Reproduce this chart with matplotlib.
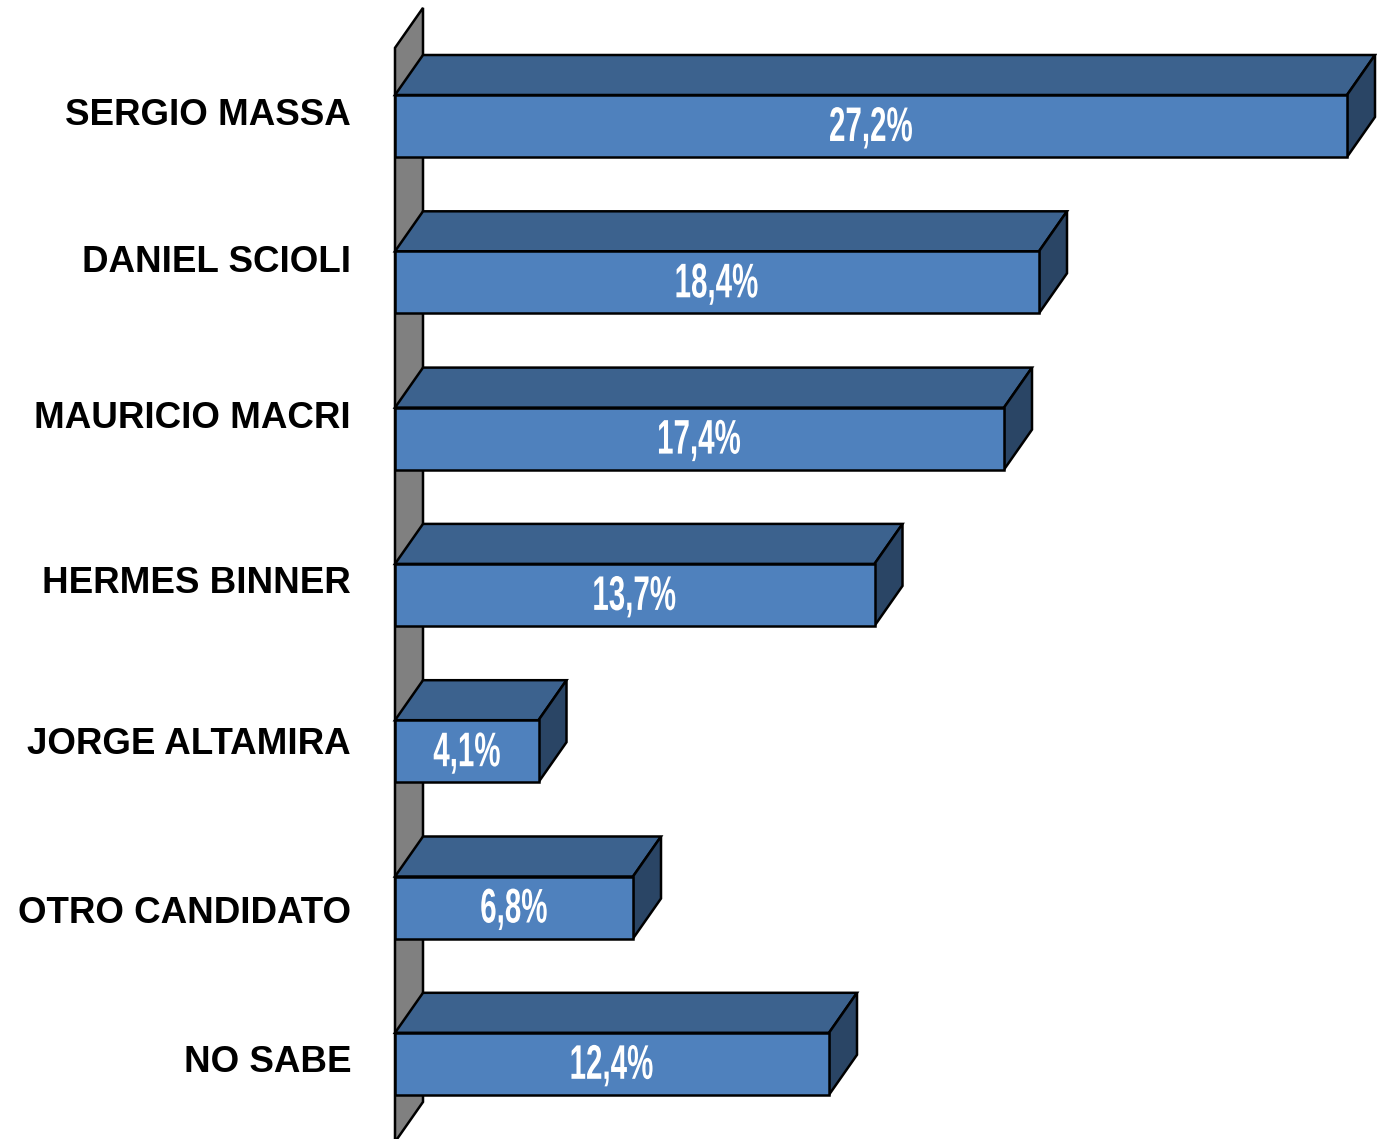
import matplotlib
matplotlib.use("Agg")
from matplotlib import pyplot as plt
from matplotlib import font_manager as fm
from matplotlib.patches import Polygon, PathPatch
from matplotlib.textpath import TextPath
from matplotlib.transforms import Affine2D, IdentityTransform, offset_copy

#Datos
candidatos = ["SERGIO MASSA", "DANIEL SCIOLI", "MAURICIO MACRI", "HERMES BINNER",
              "JORGE ALTAMIRA", "OTRO CANDIDATO", "NO SABE"]
porcentajes = [27.2, 18.4, 17.4, 13.7, 4.1, 6.8, 12.4]
etiquetas = ["27,2%", "18,4%", "17,4%", "13,7%", "4,1%", "6,8%", "12,4%"]

#Layout (pixeles)
W, H = 1377, 1139
PX_X = 35.0    # px por punto porcentual
PX_Y = 156.3   # px por categoria
X0, Y0 = 395, 126
nudge_nombres = [-14, -23.5, -24, -15, -10.5, 2, -4.5]  # centro del texto vs centro de la barra

COL_FRENTE = "#4F81BD"
COL_TECHO = "#3C628E"
COL_LADO = "#2A4565"
COL_PARED = "#808080"

# fuente angosta para las etiquetas de valor
try:
  fm.findfont(fm.FontProperties(family="Liberation Sans Narrow", weight="bold"), fallback_to_default=False)
  fuente_valor, apretar = "Liberation Sans Narrow", 1.0
except ValueError:
  fuente_valor, apretar = "Liberation Sans", 0.82

fig = plt.figure(figsize=(W/100, H/100), dpi=100)
ax = fig.add_axes([0, 0, 1, 1])
ax.set_xlim(-X0/PX_X, (W-X0)/PX_X)
ax.set_ylim((H-Y0)/PX_Y, -Y0/PX_Y)
ax.axis("off")

n = len(candidatos)
dx = 28/PX_X
dy = 40/PX_Y
alto = 62/PX_Y
lw = 1.8

#Pared gris del eje
pared = Polygon([(0, -0.5), (dx, -0.5-dy), (dx, n-0.5-dy), (0, n-0.5)],
                closed=True, facecolor=COL_PARED, edgecolor="k", lw=lw, zorder=1)
ax.add_patch(pared)

for i, v in enumerate(porcentajes):
  arriba, abajo = i-alto/2, i+alto/2
  techo = Polygon([(0, arriba), (dx, arriba-dy), (v+dx, arriba-dy), (v, arriba)],
                  facecolor=COL_TECHO, edgecolor="k", lw=lw, zorder=2, joinstyle="miter")
  lado = Polygon([(v, arriba), (v+dx, arriba-dy), (v+dx, abajo-dy), (v, abajo)],
                 facecolor=COL_LADO, edgecolor="k", lw=lw, zorder=2, joinstyle="miter")
  frente = Polygon([(0, arriba), (v, arriba), (v, abajo), (0, abajo)],
                   facecolor=COL_FRENTE, edgecolor="k", lw=lw, zorder=3, joinstyle="miter")
  for p in (techo, lado, frente):
    ax.add_patch(p)

#Nombres a la izquierda
for i, nombre in enumerate(candidatos):
  tr = offset_copy(ax.transData, fig, x=-44, y=-(nudge_nombres[i]+13), units="dots")
  ax.text(0, i, nombre, transform=tr, ha="right", va="baseline", fontsize=26.5,
          fontweight="bold", family="Liberation Sans", color="k")

#Etiquetas de valor (texto angosto y estirado verticalmente)
fp = fm.FontProperties(family=fuente_valor, weight="bold")
for i, (v, et) in enumerate(zip(porcentajes, etiquetas)):
  cx, cy = ax.transData.transform((v/2, i))
  camino = TextPath((0, 0), et, size=36, prop=fp)
  ext = camino.get_extents()
  tr = Affine2D().translate(-(ext.x0+ext.x1)/2, 0).scale(apretar, 1.35).translate(cx, cy-15)
  ax.add_patch(PathPatch(tr.transform_path(camino), transform=IdentityTransform(),
                         facecolor="white", edgecolor="none", zorder=4))

fig.savefig("out.png", dpi=100)
